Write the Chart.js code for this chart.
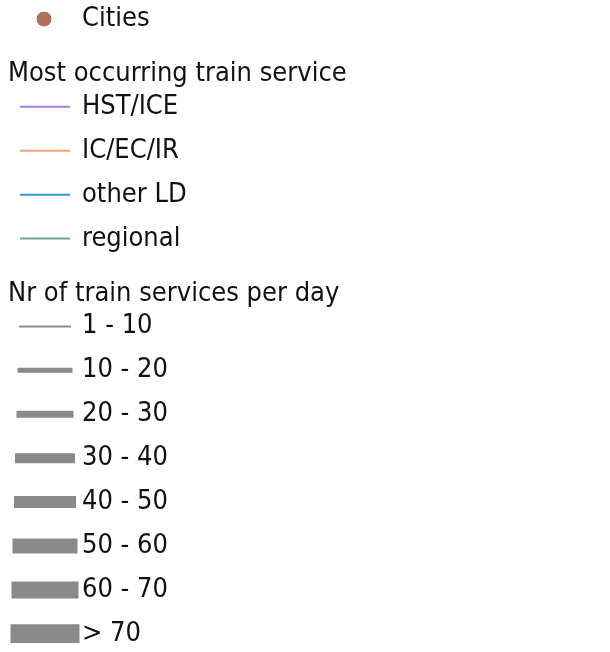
<!DOCTYPE html>
<html>
<head>
<meta charset="utf-8">
<script src="https://cdn.jsdelivr.net/npm/chart.js@4/dist/chart.umd.min.js"></script>
<style>
  html, body { margin: 0; padding: 0; background: #fff; }
  #legend-chart { display: block; }
</style>
</head>
<body>
<canvas id="legend-chart" width="610" height="652"></canvas>
<script>
// legend content
const cityLabel = 'Cities';
const serviceHeader = 'Most occurring train service';
const serviceTypes = ['HST/ICE', 'IC/EC/IR', 'other LD', 'regional'];
const frequencyHeader = 'Nr of train services per day';
const frequencyClasses = ['1 - 10', '10 - 20', '20 - 30', '30 - 40', '40 - 50', '50 - 60', '60 - 70', '> 70'];

// styling
const serviceColors = ['#a97ee4', '#f0a676', '#2e9ad8', '#6aab80'];
const frequencyWidths = [2, 5, 7, 10, 12, 15, 17, 19];
const frequencyColor = '#8a8a8a';
const cityColor = '#b06f5a';
const fontFamily = '"DejaVu Sans Condensed", "Liberation Sans", sans-serif';
const fontSize = 27;

const headers = [serviceHeader, frequencyHeader];
const rows = [cityLabel, serviceHeader, ...serviceTypes, frequencyHeader, ...frequencyClasses];

// sample line runs from x=0 to x=1 on the hidden x scale
function sampleLine(label) {
  return [{ x: 0, y: label }, { x: 1, y: label }];
}

const datasets = [];

datasets.push({
  type: 'scatter',
  data: [{ x: 0.48, y: cityLabel }],
  pointRadius: 7.5,
  pointBackgroundColor: cityColor,
  pointBorderWidth: 0
});

serviceTypes.forEach((label, i) => {
  datasets.push({
    type: 'line',
    data: sampleLine(label),
    borderColor: serviceColors[i],
    borderWidth: 2,
    pointRadius: 0
  });
});

frequencyClasses.forEach((label, i) => {
  datasets.push({
    type: 'line',
    data: sampleLine(label),
    borderColor: frequencyColor,
    borderWidth: frequencyWidths[i],
    borderCapStyle: 'square',
    pointRadius: 0
  });
});

// section headers sit left of the swatches, so draw them ourselves
const headerPlugin = {
  id: 'headers',
  afterDraw(chart) {
    const ctx = chart.ctx;
    const yScale = chart.scales.y;
    ctx.save();
    ctx.font = fontSize + 'px ' + fontFamily;
    ctx.fillStyle = '#111';
    ctx.textAlign = 'left';
    ctx.textBaseline = 'middle';
    headers.forEach(h => {
      const y = yScale.getPixelForValue(rows.indexOf(h));
      ctx.fillText(h, 8, y + 11);
    });
    ctx.restore();
  }
};

new Chart(document.getElementById('legend-chart'), {
  type: 'line',
  data: { labels: rows, datasets: datasets },
  options: {
    responsive: false,
    animation: false,
    events: [],
    layout: { autoPadding: false, padding: { top: 19, bottom: 18, left: 0, right: 0 } },
    scales: {
      x: {
        type: 'linear',
        min: -0.4,
        max: 1.2,
        display: false
      },
      y: {
        type: 'category',
        labels: rows,
        position: 'right',
        offset: false,
        grid: { display: false, drawTicks: false },
        border: { display: false },
        afterFit: (scale) => { scale.width = 530; },
        ticks: {
          autoSkip: false,
          padding: 2,
          color: '#111',
          font: { family: fontFamily, size: fontSize },
          callback: function (value) {
            const label = this.getLabelForValue(value);
            return headers.includes(label) ? '' : label;
          }
        }
      }
    },
    plugins: {
      legend: { display: false },
      tooltip: { enabled: false }
    }
  },
  plugins: [headerPlugin]
});
</script>
</body>
</html>
